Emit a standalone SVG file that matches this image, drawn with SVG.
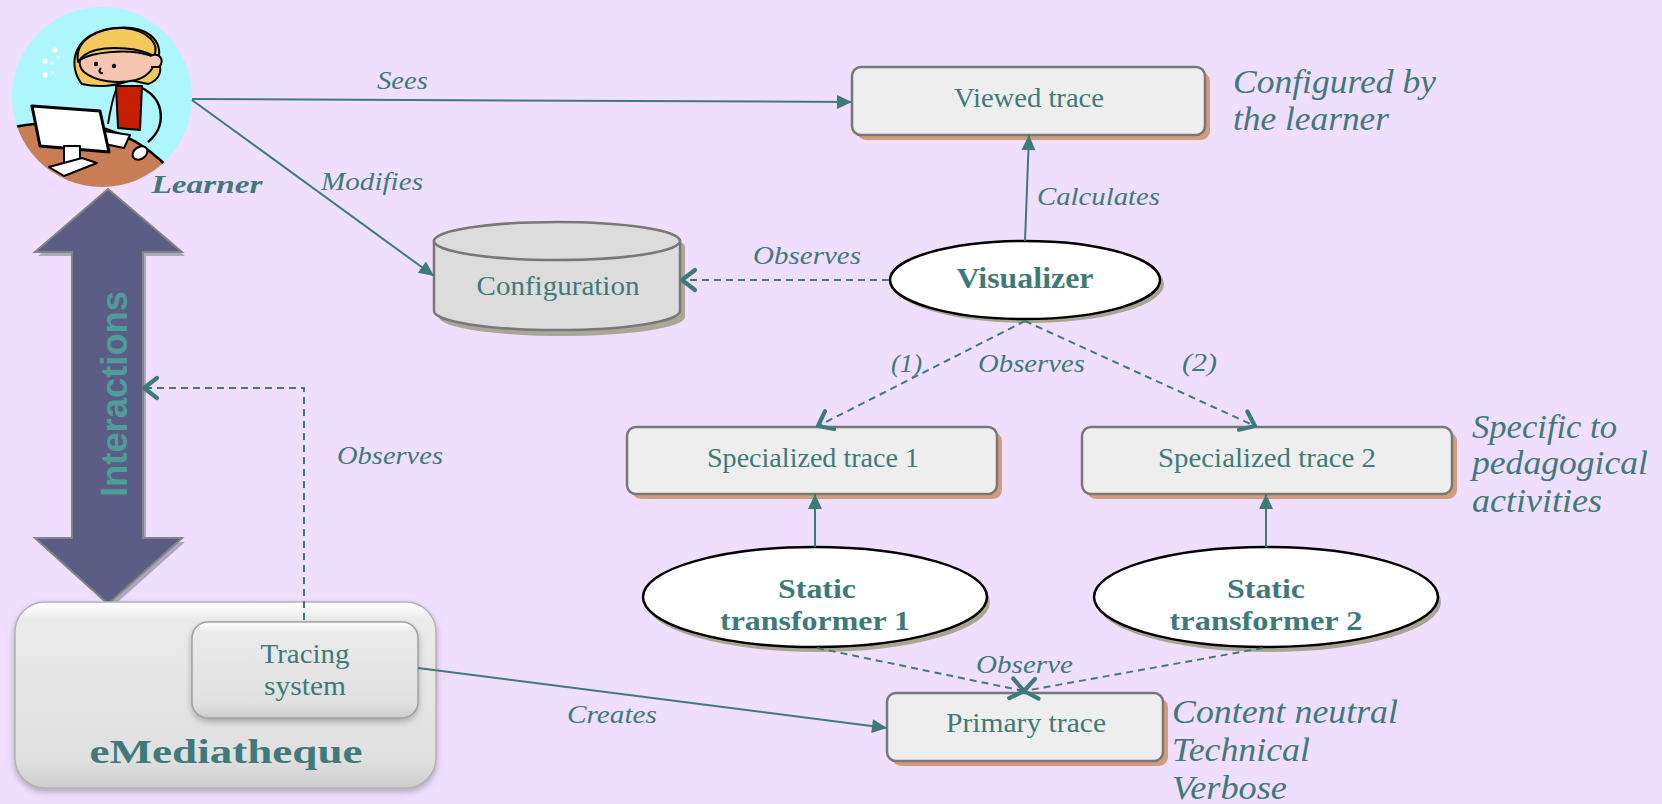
<svg xmlns="http://www.w3.org/2000/svg" width="1662" height="804" viewBox="0 0 1662 804">
  <style>
    .txt { font-family: "Liberation Serif", "Times New Roman", serif; fill: #3f7a78; }
    .node { font-size: 27px; }
    .bold { font-weight: bold; }
    .lbl { font-size: 26px; font-style: italic; }
    .note { font-size: 33px; font-style: italic; }
    .box { fill: #eeeeee; stroke: #777777; stroke-width: 2.5; }
    .boxshadow { fill: #d39c7e; }
    .oval { fill: #ffffff; stroke: #000000; stroke-width: 2.5; }
    .ovalshadow { fill: #a7a690; }
    .solid { fill: none; stroke: #3d7a78; stroke-width: 2; marker-end: url(#tri); }
    .dash { fill: none; stroke: #3d7a78; stroke-width: 2; stroke-dasharray: 7 5; marker-end: url(#chev); }
    .ink { stroke: #000; stroke-width: 2; stroke-linejoin: round; }
  </style>
  <defs>
    <marker id="tri" viewBox="-16 -8 17 16" markerWidth="17" markerHeight="16" refX="0" refY="0" markerUnits="userSpaceOnUse" orient="auto">
      <path d="M -15 -7 L 0 0 L -15 7 Z" fill="#3d7a78"/>
    </marker>
    <marker id="chev" viewBox="-17 -13 20 26" markerWidth="20" markerHeight="26" refX="0" refY="0" markerUnits="userSpaceOnUse" orient="auto">
      <path d="M -13 -10 L 0 0 L -13 10" fill="none" stroke="#3d7a78" stroke-width="4.2" stroke-linecap="round" stroke-linejoin="round"/>
    </marker>
    <linearGradient id="bevel" x1="0" y1="0" x2="0" y2="1">
      <stop offset="0" stop-color="#ffffff"/>
      <stop offset="0.1" stop-color="#ebebeb"/>
      <stop offset="0.85" stop-color="#e0e0e0"/>
      <stop offset="1" stop-color="#cdcdcd"/>
    </linearGradient>
    <filter id="soft" x="-10%" y="-10%" width="120%" height="130%">
      <feDropShadow dx="0" dy="3" stdDeviation="3" flood-color="#7a7a7a" flood-opacity="0.55"/>
    </filter>
    <clipPath id="disc">
      <circle cx="102" cy="97" r="90"/>
    </clipPath>
  </defs>

  <rect width="1662" height="804" fill="#efdefe"/>

  <!-- learner portrait -->
  <g id="learner">
    <g clip-path="url(#disc)">
      <rect x="0" y="0" width="200" height="200" fill="#adf6fb"/>
      <g fill="#ffffff">
        <circle cx="55" cy="50" r="2.5"/>
        <circle cx="45" cy="61" r="2.5"/>
        <circle cx="52" cy="63" r="1.5"/>
        <circle cx="58" cy="57" r="1.5"/>
        <circle cx="45" cy="75" r="2.5"/>
        <circle cx="53" cy="73" r="1.5"/>
      </g>
      <!-- hair mass behind the face -->
      <path d="M 82 84 C 70 70 68 38 108 29 C 148 22 164 42 158 60 C 163 70 160 80 148 84 L 130 80 C 118 86 98 88 82 84 Z" fill="#f4c95c" class="ink"/>
      <!-- face -->
      <path d="M 80 60 C 92 52 128 48 152 56 C 158 64 150 76 136 80 C 118 84 96 82 84 72 C 80 68 79 64 80 60 Z" fill="#f6c5af" class="ink"/>
      <!-- fringe -->
      <path d="M 78 62 C 74 38 102 27 124 28 C 148 30 160 44 154 56 C 140 48 112 46 96 50 C 88 52 82 56 78 62 Z" fill="#f4c95c" class="ink"/>
      <path d="M 150 56 C 160 52 165 60 159 67 L 151 67" fill="#f6c5af" class="ink"/>
      <circle cx="96" cy="64" r="2.2" fill="#000"/>
      <circle cx="114" cy="66" r="2.2" fill="#000"/>
      <path d="M 101 68 C 98 71 100 74 103 73" fill="none" class="ink"/>
      <path d="M 116 86 L 142 86 L 140 130 L 118 128 Z" fill="#c41f00" class="ink"/>
      <path d="M 116 90 C 112 100 110 112 108 124" fill="none" class="ink"/>
      <path d="M 0 130 Q 112 103 172 172 L 200 200 L 0 200 Z" fill="#c97d55" stroke="#000" stroke-width="2.5"/>
      <path d="M 142 88 C 166 100 166 128 148 142" fill="none" stroke="#000" stroke-width="2.5"/>
      <ellipse cx="140" cy="153" rx="8" ry="6" transform="rotate(-35 140 153)" fill="#fff" class="ink"/>
      <path d="M 104 131 L 130 135 L 124 148 L 100 143 Z" fill="#fff" class="ink"/>
      <path d="M 32 106 L 100 111 L 109 152 L 40 146 Z" fill="#fff" stroke="#000" stroke-width="3" stroke-linejoin="round"/>
      <rect x="64" y="146" width="16" height="18" fill="#fff" class="ink"/>
      <path d="M 49 167 L 82 158 L 97 163 L 64 176 Z" fill="#fff" class="ink"/>
    </g>
    <text class="txt bold" x="207" y="193" text-anchor="middle" font-size="26" font-style="italic" textLength="111" lengthAdjust="spacingAndGlyphs">Learner</text>
  </g>

  <!-- interactions double arrow -->
  <g id="interactions">
    <polygon points="111,193 185,256 146,256 146,542 185,542 111,608 38,542 75,542 75,256 38,256" fill="#a9a9bb"/>
    <polygon points="108,189 182,252 143,252 143,538 182,538 108,604 35,538 72,538 72,252 35,252" fill="#5c5d85" stroke="#838383" stroke-width="2"/>
    <text x="0" y="0" transform="translate(127 394) rotate(-90)" text-anchor="middle" font-family="Liberation Sans, Arial, sans-serif" font-weight="bold" font-size="36" fill="#4f9d9a" textLength="206" lengthAdjust="spacingAndGlyphs">Interactions</text>
  </g>

  <!-- eMediatheque platform with its tracing system -->
  <g id="emediatheque">
    <rect x="15" y="602" width="421" height="186" rx="30" fill="url(#bevel)" stroke="#b3b3b3" stroke-width="1.5" filter="url(#soft)"/>
    <text class="txt bold" x="226" y="763" text-anchor="middle" font-size="33" textLength="273" lengthAdjust="spacingAndGlyphs">eMediatheque</text>
  </g>
  <g id="tracing-system">
    <rect x="192" y="622" width="226" height="96" rx="16" fill="url(#bevel)" stroke="#a0a0a0" stroke-width="1.5" filter="url(#soft)"/>
    <text class="txt node" x="305" y="663" text-anchor="middle" textLength="89" lengthAdjust="spacingAndGlyphs">Tracing</text>
    <text class="txt node" x="305" y="695" text-anchor="middle" textLength="82" lengthAdjust="spacingAndGlyphs">system</text>
  </g>

  <!-- configuration store -->
  <g id="configuration">
    <path d="M 439 247 L 439 317 A 123 19 0 0 0 685 317 L 685 247 A 123 19 0 0 0 439 247 Z" fill="#a9a898"/>
    <path d="M 434 241 L 434 311 A 123 19 0 0 0 680 311 L 680 241 Z" fill="#dcdcdc" stroke="#777" stroke-width="2.5"/>
    <ellipse cx="557" cy="241" rx="123" ry="19" fill="#dcdcdc" stroke="#777" stroke-width="2.5"/>
    <text class="txt node" x="558" y="295" text-anchor="middle" textLength="163" lengthAdjust="spacingAndGlyphs">Configuration</text>
  </g>

  <!-- trace boxes -->
  <g id="viewed-trace">
    <rect class="boxshadow" x="857" y="72" width="353" height="68" rx="9"/>
    <rect class="box" x="852" y="67" width="353" height="68" rx="9"/>
    <text class="txt node" x="1029" y="107" text-anchor="middle" textLength="150" lengthAdjust="spacingAndGlyphs">Viewed trace</text>
  </g>
  <g id="specialized-trace-1">
    <rect class="boxshadow" x="632" y="432" width="370" height="67" rx="9"/>
    <rect class="box" x="627" y="427" width="370" height="67" rx="9"/>
    <text class="txt node" x="813" y="467" text-anchor="middle" textLength="212" lengthAdjust="spacingAndGlyphs">Specialized trace 1</text>
  </g>
  <g id="specialized-trace-2">
    <rect class="boxshadow" x="1087" y="432" width="370" height="67" rx="9"/>
    <rect class="box" x="1082" y="427" width="370" height="67" rx="9"/>
    <text class="txt node" x="1267" y="467" text-anchor="middle" textLength="218" lengthAdjust="spacingAndGlyphs">Specialized trace 2</text>
  </g>
  <g id="primary-trace">
    <rect class="boxshadow" x="892" y="698" width="276" height="68" rx="9"/>
    <rect class="box" x="887" y="693" width="276" height="68" rx="9"/>
    <text class="txt node" x="1026" y="732" text-anchor="middle" textLength="160" lengthAdjust="spacingAndGlyphs">Primary trace</text>
  </g>

  <!-- processes -->
  <g id="visualizer">
    <ellipse class="ovalshadow" cx="1029" cy="284" rx="135" ry="39"/>
    <ellipse class="oval" cx="1025" cy="280" rx="135" ry="39"/>
    <text class="txt bold" x="1025" y="288" text-anchor="middle" font-size="29" textLength="137" lengthAdjust="spacingAndGlyphs">Visualizer</text>
  </g>
  <g id="static-transformer-1">
    <ellipse class="ovalshadow" cx="818" cy="602" rx="172" ry="50"/>
    <ellipse class="oval" cx="815" cy="597" rx="172" ry="50"/>
    <text class="txt bold" x="817" y="598" text-anchor="middle" font-size="27" textLength="78" lengthAdjust="spacingAndGlyphs">Static</text>
    <text class="txt bold" x="815" y="630" text-anchor="middle" font-size="27" textLength="190" lengthAdjust="spacingAndGlyphs">transformer 1</text>
  </g>
  <g id="static-transformer-2">
    <ellipse class="ovalshadow" cx="1269" cy="602" rx="172" ry="50"/>
    <ellipse class="oval" cx="1266" cy="597" rx="172" ry="50"/>
    <text class="txt bold" x="1266" y="598" text-anchor="middle" font-size="27" textLength="78" lengthAdjust="spacingAndGlyphs">Static</text>
    <text class="txt bold" x="1266" y="630" text-anchor="middle" font-size="27" textLength="193" lengthAdjust="spacingAndGlyphs">transformer 2</text>
  </g>

  <!-- connectors -->
  <g id="connectors">
    <path class="solid" d="M 192 99 L 852 102"/>
    <path class="solid" d="M 192 100 L 434 276"/>
    <path class="solid" d="M 1025 241 L 1029 135"/>
    <path class="solid" d="M 815 547 L 815 494"/>
    <path class="solid" d="M 1266 547 L 1266 494"/>
    <path class="solid" d="M 418 668 L 887 728"/>
    <path class="dash" d="M 889 280 L 682 280"/>
    <path class="dash" d="M 1025 321 L 818 426"/>
    <path class="dash" d="M 1025 321 L 1255 426"/>
    <path class="dash" d="M 817 648 L 1024 691"/>
    <path class="dash" d="M 1263 648 L 1024 691"/>
    <path class="dash" d="M 304 620 L 304 388 L 144 388"/>
  </g>

  <!-- connector labels -->
  <g id="labels">
    <text class="txt lbl" x="377" y="89" textLength="51" lengthAdjust="spacingAndGlyphs">Sees</text>
    <text class="txt lbl" x="321" y="190" textLength="102" lengthAdjust="spacingAndGlyphs">Modifies</text>
    <text class="txt lbl" x="753" y="264" textLength="108" lengthAdjust="spacingAndGlyphs">Observes</text>
    <text class="txt lbl" x="1037" y="205" textLength="123" lengthAdjust="spacingAndGlyphs">Calculates</text>
    <text class="txt lbl" x="891" y="372" textLength="31" lengthAdjust="spacingAndGlyphs">(1)</text>
    <text class="txt lbl" x="978" y="372" textLength="107" lengthAdjust="spacingAndGlyphs">Observes</text>
    <text class="txt lbl" x="1182" y="371" textLength="35" lengthAdjust="spacingAndGlyphs">(2)</text>
    <text class="txt lbl" x="337" y="464" textLength="106" lengthAdjust="spacingAndGlyphs">Observes</text>
    <text class="txt lbl" x="976" y="673" textLength="97" lengthAdjust="spacingAndGlyphs">Observe</text>
    <text class="txt lbl" x="567" y="723" textLength="90" lengthAdjust="spacingAndGlyphs">Creates</text>
  </g>

  <!-- side notes -->
  <g id="notes">
    <text class="txt note" x="1233" y="93" textLength="203" lengthAdjust="spacingAndGlyphs">Configured by</text>
    <text class="txt note" x="1233" y="130" textLength="156" lengthAdjust="spacingAndGlyphs">the learner</text>
    <text class="txt note" x="1472" y="438" textLength="145" lengthAdjust="spacingAndGlyphs">Specific to</text>
    <text class="txt note" x="1472" y="474" textLength="176" lengthAdjust="spacingAndGlyphs">pedagogical</text>
    <text class="txt note" x="1472" y="512" textLength="130" lengthAdjust="spacingAndGlyphs">activities</text>
    <text class="txt note" x="1172" y="723" textLength="226" lengthAdjust="spacingAndGlyphs">Content neutral</text>
    <text class="txt note" x="1172" y="761" textLength="138" lengthAdjust="spacingAndGlyphs">Technical</text>
    <text class="txt note" x="1172" y="799" textLength="115" lengthAdjust="spacingAndGlyphs">Verbose</text>
  </g>
</svg>
